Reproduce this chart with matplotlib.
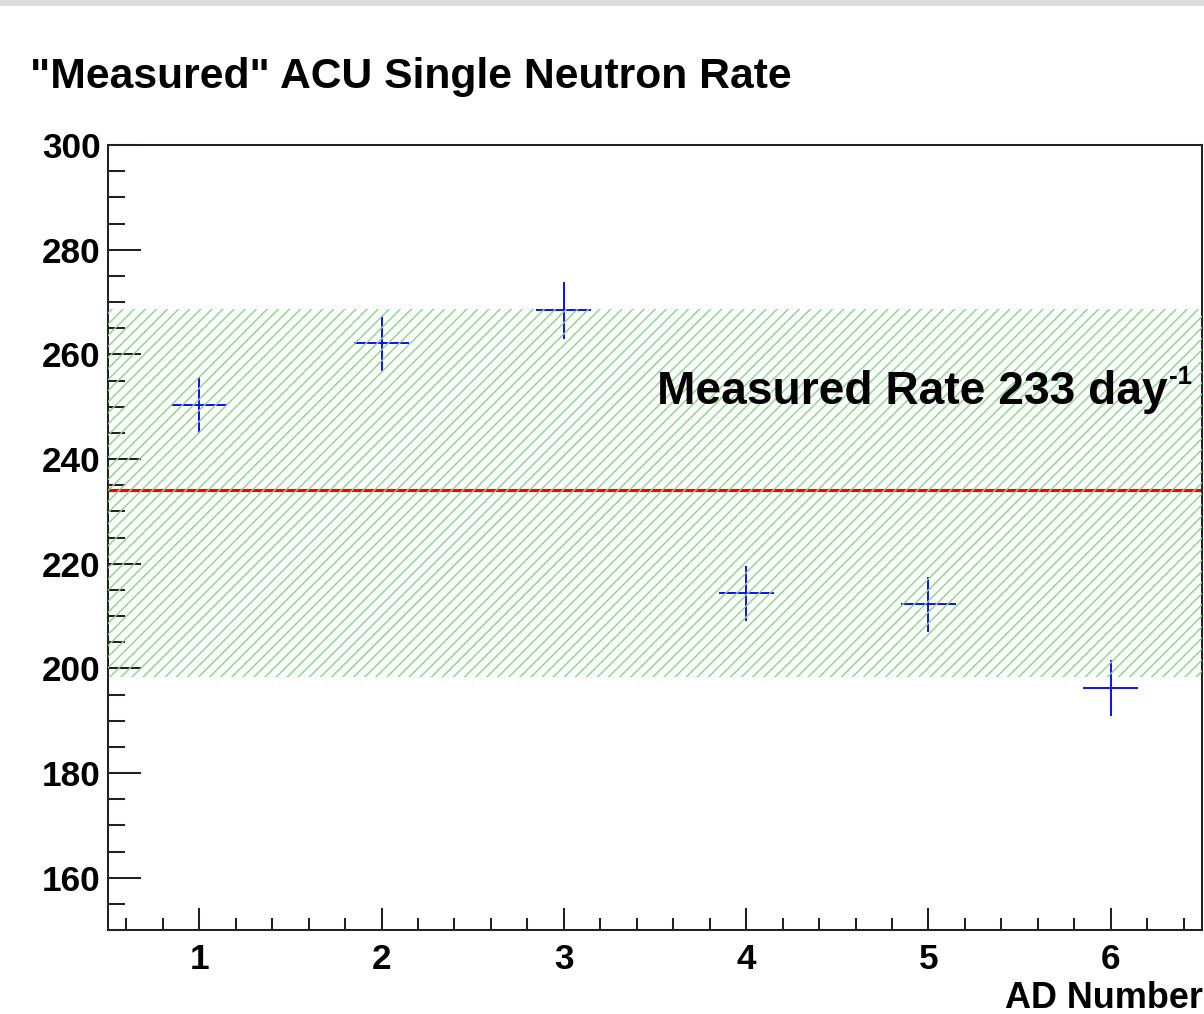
import numpy as np
import matplotlib
matplotlib.use("Agg")
import matplotlib.pyplot as plt
from matplotlib.patches import Rectangle
from matplotlib.ticker import MultipleLocator

# Data
ad_number = [1, 2, 3, 4, 5, 6]
rate = [250.3, 262.1, 268.4, 214.3, 212.2, 196.2]
rate_err = [5.4, 5.3, 5.4, 5.3, 5.2, 5.3]
ad_err = [0.15, 0.15, 0.15, 0.15, 0.15, 0.15]
mean_rate = 234.0
band_low = 198.3
band_high = 268.6

plt.rcParams["font.family"] = ["Liberation Sans", "DejaVu Sans"]
plt.rcParams["font.weight"] = "bold"
plt.rcParams["hatch.linewidth"] = 0.75

dpi = 133
fig = plt.figure(figsize=(1204 / dpi, 1014 / dpi), dpi=dpi)
ax = fig.add_axes([108 / 1204, 1 - 930 / 1014, (1202 - 108) / 1204, (930 - 145) / 1014])

ax.errorbar(ad_number, rate, yerr=rate_err, xerr=ad_err, fmt="none",
            ecolor="#0000ff", elinewidth=1.0, capsize=0, zorder=2)
ax.axhline(mean_rate, color="#ff0000", lw=1.7, zorder=2)
ax.axhspan(band_low, band_high, facecolor="none", edgecolor="#86d886",
           hatch="////", linewidth=0, zorder=3)

label = ax.text(3.51, 250.5, "Measured Rate 233 day", fontsize=25,
                fontweight="bold", va="baseline", ha="left", zorder=4)
ax.annotate("-1", xy=(1, 1), xycoords=label, xytext=(1, 3),
            textcoords="offset points", fontsize=14, fontweight="bold",
            ha="left", va="top", zorder=4)

ax.set_xlim(0.5, 6.5)
ax.set_ylim(150, 300)
ax.xaxis.set_major_locator(MultipleLocator(1))
ax.xaxis.set_minor_locator(MultipleLocator(0.2))
ax.yaxis.set_major_locator(MultipleLocator(20))
ax.yaxis.set_minor_locator(MultipleLocator(5))
ax.set_yticks(np.arange(160, 301, 20))

ax.tick_params(axis="both", which="both", direction="in", top=False, right=False,
               width=1.1, color="#222222", labelsize=19)
ax.tick_params(axis="y", which="major", length=18, pad=4)
ax.tick_params(axis="y", which="minor", length=9)
ax.tick_params(axis="x", which="major", length=12, pad=7)
ax.tick_params(axis="x", which="minor", length=6.5)
for s in ax.spines.values():
    s.set_linewidth(1.1)
    s.set_color("#222222")

fig.text(30 / 1204, 1 - 88 / 1014, '"Measured" ACU Single Neutron Rate',
         fontsize=23.1, fontweight="bold", ha="left", va="baseline")
fig.text(1203 / 1204, 1 - 1008 / 1014, "AD Number", fontsize=19.5, fontweight="bold",
         ha="right", va="baseline")

fig.add_artist(Rectangle((0, 1 - 6 / 1014), 1, 6 / 1014, transform=fig.transFigure,
                         color="#dedede", lw=0))

fig.savefig("out.png", dpi=dpi)
